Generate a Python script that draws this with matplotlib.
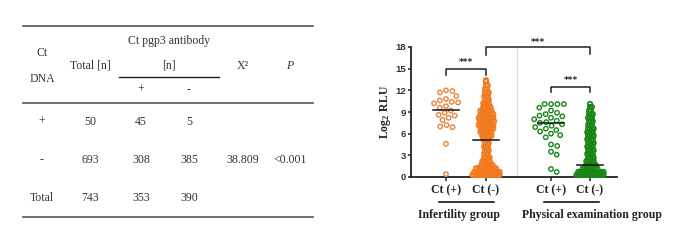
import numpy as np
import matplotlib
matplotlib.use("Agg")
from matplotlib import pyplot as plt
from matplotlib.lines import Line2D

plt.rcParams['mathtext.fontset'] = 'custom'
plt.rcParams['mathtext.bf'] = 'Liberation Serif:bold'
plt.rcParams['mathtext.rm'] = 'Liberation Serif'

# ---------------- table data ----------------
tbl_rows = ["+", "-", "Total"]
tbl_total = ["50", "693", "743"]
tbl_pos = ["45", "308", "353"]
tbl_neg = ["5", "385", "390"]
tbl_chi = ["", "38.809", ""]
tbl_p = ["", "<0.001", ""]

# ---------------- chart data ----------------
cat_labels = ["Ct (+)", "Ct (-)", "Ct (+)", "Ct (-)"]
cat_pos = [1.0, 2.0, 3.625, 4.6]
group_labels = ["Infertility group", "Physical examination group"]

inf_pos = [12.0, 11.9, 11.7, 11.2, 10.8, 10.6, 10.4, 10.3, 10.2, 9.8, 9.6,
           9.2, 8.9, 8.6, 8.5, 8.2, 7.9, 7.2, 7.0, 6.9, 4.6, 0.4]
phy_pos = [10.1, 10.1, 10.1, 10.1, 9.6, 9.2, 8.9, 8.7, 8.5, 8.4, 8.2, 8.0,
           7.8, 7.6, 7.5, 7.3, 7.1, 6.9, 6.7, 6.5, 6.3, 6.0, 5.8, 5.5,
           4.5, 4.3, 3.5, 3.1, 1.1, 0.7]

# dense Ct(-) groups read as level / number of overlapping circles
inf_neg_levels = [0.3, 0.7, 1.2, 1.7, 2.2, 2.7, 3.2, 3.7, 4.2, 4.7, 5.2, 5.7,
                  6.2, 6.7, 7.2, 7.7, 8.2, 8.7, 9.2, 9.7, 10.2, 10.7, 11.2,
                  11.7, 12.2, 12.7, 13.2, 13.4]
inf_neg_counts = [16, 15, 12, 7, 5, 4, 3, 3, 3, 3, 4, 6,
                  7, 8, 9, 9, 9, 8, 7, 5, 4, 3, 3,
                  3, 2, 2, 1, 1]
phy_neg_levels = [0.3, 0.7, 1.2, 1.7, 2.2, 2.7, 3.2, 3.7, 4.2, 4.7, 5.2, 5.7,
                  6.2, 6.7, 7.2, 7.7, 8.2, 8.7, 9.2, 9.7, 10.1]
phy_neg_counts = [16, 15, 9, 6, 5, 4, 4, 4, 4, 4, 4, 4,
                  4, 4, 3, 3, 3, 3, 2, 2, 1]

means = [9.3, 5.1, 7.5, 1.6]

orange = '#F27A1E'
orange_open = '#E5853C'
green = '#178617'


def swarm(vals, d=6.4, sx=40.0, sy=7.22):
    """simple beeswarm, returns x offsets in data units"""
    placed = []
    offs = np.zeros(len(vals))
    order = np.argsort(vals)[::-1]
    for i in order:
        y = vals[i] * sy
        cands = [0.0]
        for px, py in placed:
            dy = abs(py - y)
            if dy < d:
                dx = np.sqrt(d**2 - dy**2)
                cands += [px + dx, px - dx]
        cands.sort(key=abs)
        for c in cands:
            ok = True
            for px, py in placed:
                if (px - c)**2 + (py - y)**2 < d**2 - 1e-6:
                    ok = False
                    break
            if ok:
                break
        placed.append((c, y))
        offs[i] = c / sx
    return offs


def rows(levels, counts, dx=0.045):
    xs, ys = [], []
    for j, (lv, n) in enumerate(zip(levels, counts)):
        shift = dx / 2 if j % 2 else 0.0
        for k in range(n):
            xs.append((k - (n - 1) / 2) * dx + (shift if n > 1 else 0.0))
            ys.append(lv)
    return np.array(xs), np.array(ys)


fig = plt.figure(figsize=(6.85, 2.44), dpi=100)

# ---------------- table ----------------
tab = fig.add_axes([0, 0, 1, 1])
tab.set_xlim(0, 685)
tab.set_ylim(244, 0)
tab.axis('off')
tc = '#333333'
tf = dict(family='Liberation Serif', fontsize=8.5, color=tc, ha='center', va='center')
for yl in [26, 103, 217]:
    tab.add_line(Line2D([23, 313], [yl, yl], color='#555555', lw=1.2))
tab.add_line(Line2D([119, 219], [77, 77], color='#222222', lw=1.0))
tab.text(42, 53, "Ct", **tf)
tab.text(42, 79, "DNA", **tf)
tab.text(90, 66, "Total [n]", **tf)
tab.text(169, 41, "Ct pgp3 antibody", **tf)
tab.text(169, 66, "[n]", **tf)
tab.text(243, 66, "X²", **tf)
tab.text(290, 66, "P", style='italic', **tf)
tab.text(141, 90, "+", **tf)
tab.text(189, 90, "-", **tf)
col_x = [42, 90, 141, 189, 243, 290]
row_y = [122, 160, 198]
for i in range(3):
    vals = [tbl_rows[i], tbl_total[i], tbl_pos[i], tbl_neg[i], tbl_chi[i], tbl_p[i]]
    for cx, v in zip(col_x, vals):
        tab.text(cx, row_y[i], v, **tf)

# group underlines / labels under chart
gf = dict(family='Liberation Serif', fontsize=8.5, fontweight='bold', color='#222222',
          ha='center', va='center')
tab.add_line(Line2D([439, 494], [202, 202], color='black', lw=1.1))
tab.add_line(Line2D([544, 599], [202, 202], color='black', lw=1.1))
tab.text(459, 215, group_labels[0], **gf)
tab.text(592, 215, group_labels[1], **gf)

# ---------------- chart ----------------
ax = fig.add_axes([411 / 685, 1 - 177 / 244, 206 / 685, 130 / 244])
ax.set_xlim(0.125, 5.275)
ax.set_ylim(0, 18)

ax.axvline(2.775, 0, 1, color='#dddddd', lw=1.0, zorder=0)

mk = dict(s=10, linewidths=1.0, facecolors='none', clip_on=False, zorder=3)
mkd = dict(s=11, linewidths=1.2, facecolors='none', clip_on=False, zorder=3)
ax.scatter(cat_pos[0] + swarm(np.array(inf_pos)), inf_pos, edgecolors=orange_open, **mk)
ax.scatter(cat_pos[2] + swarm(np.array(phy_pos)), phy_pos, edgecolors=green, **mk)
xo, yo = rows(inf_neg_levels, inf_neg_counts)
ax.scatter(cat_pos[1] + xo, yo, edgecolors=orange, **mkd)
xo, yo = rows(phy_neg_levels, phy_neg_counts)
ax.scatter(cat_pos[3] + xo, yo, edgecolors=green, **mkd)

for p, m in zip(cat_pos, means):
    ax.plot([p - 0.33, p + 0.33], [m, m], color='#111111', lw=1.1, zorder=4)


def bracket(x1, x2, y, yl, yr, ty):
    ax.plot([x1, x1, x2, x2], [yl, y, y, yr], color='#222222', lw=1.1,
            clip_on=False, zorder=5)
    ax.text((x1 + x2) / 2, ty, "***", ha='center', va='center', fontsize=6.5,
            fontweight='bold', color='#222222', clip_on=False)


bracket(cat_pos[1], cat_pos[3], 18.0, 16.9, 17.0, 18.6)
bracket(cat_pos[0], cat_pos[1], 15.0, 14.1, 14.1, 15.8)
bracket(cat_pos[2], cat_pos[3], 12.5, 11.8, 11.8, 13.3)

for s in ['top', 'right']:
    ax.spines[s].set_visible(False)
for s in ['left', 'bottom']:
    ax.spines[s].set_linewidth(1.3)
    ax.spines[s].set_color('#222222')

ax.set_yticks(range(0, 19, 3))
ax.set_yticklabels([str(v) for v in range(0, 19, 3)], fontfamily='Liberation Sans',
                   fontweight='bold', fontsize=6.8, color='#333333')
ax.set_xticks(cat_pos)
ax.set_xticklabels(cat_labels, fontfamily='Liberation Serif', fontweight='bold',
                   fontsize=8.5, color='#222222')
ax.tick_params(axis='y', length=2.5, width=1.1, pad=1, color='#222222')
ax.tick_params(axis='x', length=3, width=1.1, pad=2, color='#222222')
ax.set_ylabel(r'$\mathbf{Log_2\ RLU}$', fontsize=8.5, color='#222222', labelpad=2)

fig.savefig("out.png", dpi=100)
